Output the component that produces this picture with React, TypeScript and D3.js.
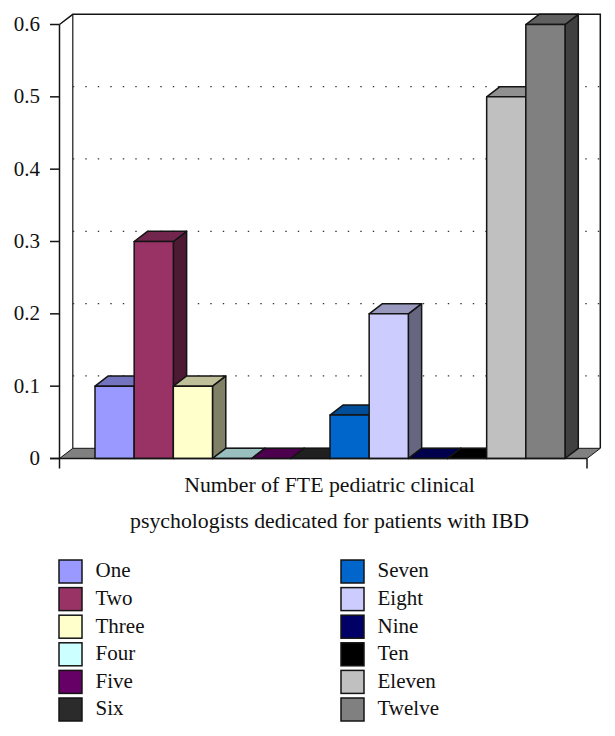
import * as d3 from "d3";

const categories = ["One", "Two", "Three", "Four", "Five", "Six", "Seven", "Eight", "Nine", "Ten", "Eleven", "Twelve"];
const values = [0.1, 0.3, 0.1, 0, 0, 0, 0.06, 0.2, 0, 0, 0.5, 0.6];
const colors = ["#9999ff", "#993366", "#ffffcc", "#ccffff", "#660066", "#2b2b2b", "#0066cc", "#ccccff", "#000066", "#000000", "#c0c0c0", "#808080"];
const tickValues = [0, 0.1, 0.2, 0.3, 0.4, 0.5, 0.6];
const titleLines = ["Number of FTE pediatric clinical", "psychologists dedicated for patients with IBD"];

const FONT = "'Liberation Serif', serif";
const INK = "#141414";

// oblique offset of the 3D box
const DX = 13.3;
const DY = -10.2;

const left = 59.5;
const right = 587;

const y = d3.scaleLinear().domain([0, 0.6]).range([458.5, 24.5]);
const x = d3.scaleBand<string>().domain(categories).range([95, 565]);

const shade = (c: string, k: number) => {
  const { r, g, b } = d3.rgb(c);
  return d3.rgb(r * k, g * k, b * k).formatHex();
};

const poly = (pts: [number, number][]) => d3.line()(pts) + "Z";

export default function App() {
  const y0 = y(0);
  const yTop = y(0.6);
  const legendRow = d3.scalePoint<number>().domain(d3.range(6)).range([571.5, 709.5]);

  return (
    <svg
      width={615}
      height={736}
      viewBox="0 0 615 736"
      style={{ position: "absolute", left: 0, top: 0, fontFamily: FONT }}
    >
      {/* walls */}
      <path
        d={`M${left},${yTop}L${left + DX},${yTop + DY}H${right + DX}V${y0 + DY}`}
        fill="none"
        stroke={INK}
        strokeWidth={1.5}
      />
      <line x1={left + DX} x2={left + DX} y1={yTop + DY} y2={y0 + DY} stroke={INK} strokeWidth={1.2} />
      <line x1={left} x2={left} y1={yTop} y2={y0 + 10} stroke={INK} strokeWidth={1.5} />

      {/* gridlines on the back wall */}
      {tickValues.slice(1, -1).map((t) => (
        <line
          key={t}
          x1={left + DX}
          x2={right + DX}
          y1={y(t) + DY}
          y2={y(t) + DY}
          stroke="#333"
          strokeWidth={1.2}
          strokeDasharray="1.4 11.1"
        />
      ))}

      {/* floor */}
      <path
        d={poly([
          [left, y0],
          [left + DX, y0 + DY],
          [right + DX, y0 + DY],
          [right, y0],
        ])}
        fill="#808080"
        stroke={INK}
        strokeWidth={1}
      />

      {/* bars, left to right so each one overlaps the previous */}
      {categories.map((c, i) => {
        const x0 = x(c) as number;
        const x1 = x0 + x.bandwidth();
        const top = y(values[i]);
        return (
          <g key={c} stroke={INK} strokeWidth={1.5} strokeLinejoin="round">
            <path
              d={poly([
                [x1, y0],
                [x1 + DX, y0 + DY],
                [x1 + DX, top + DY],
                [x1, top],
              ])}
              fill={shade(colors[i], 0.5)}
            />
            <path
              d={poly([
                [x0, top],
                [x0 + DX, top + DY],
                [x1 + DX, top + DY],
                [x1, top],
              ])}
              fill={shade(colors[i], 0.75)}
            />
            <rect x={x0} y={top} width={x.bandwidth()} height={y0 - top} fill={colors[i]} />
          </g>
        );
      })}

      {/* axes */}
      <line x1={50} x2={right} y1={y0} y2={y0} stroke={INK} strokeWidth={1.5} />
      <line x1={right} x2={right} y1={y0} y2={y0 + 10} stroke={INK} strokeWidth={1.5} />
      {tickValues.map((t) => (
        <g key={t}>
          <line x1={50} x2={left} y1={y(t)} y2={y(t)} stroke={INK} strokeWidth={1.5} />
          <text x={40} y={y(t) - 0.5} dy="0.33em" textAnchor="end" fontSize={21} fill="#111">
            {String(t)}
          </text>
        </g>
      ))}

      {titleLines.map((line, i) => (
        <text key={line} x={329.5} y={492 + i * 36} textAnchor="middle" fontSize={21.8} fill="#111">
          {line}
        </text>
      ))}

      {/* legend */}
      {categories.map((c, i) => {
        const col = i < 6 ? 0 : 1;
        const ly = legendRow(i % 6) as number;
        const sx = col === 0 ? 59 : 341;
        return (
          <g key={c}>
            <rect x={sx} y={ly - 11.5} width={23} height={23} fill={colors[i]} stroke={INK} strokeWidth={1.5} />
            <text x={sx + 36.5} y={ly - 1} dy="0.33em" fontSize={21} fill="#111">
              {c}
            </text>
          </g>
        );
      })}
    </svg>
  );
}
